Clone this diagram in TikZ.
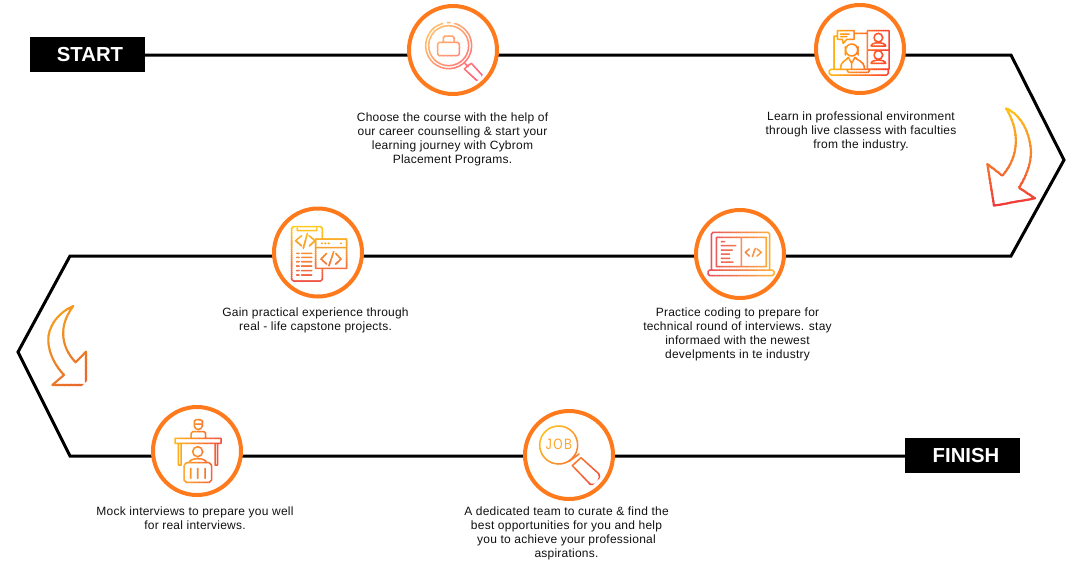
\documentclass[tikz,border=0pt]{standalone}
\usepackage{fontspec}
\setmainfont{Liberation Sans}
\usetikzlibrary{backgrounds}
\definecolor{ringc}{HTML}{FF7A1C}
\definecolor{txtc}{HTML}{111111}
\definecolor{aA}{HTML}{FFCB6A}\definecolor{aB}{HTML}{FF5F7E}
\definecolor{bA}{HTML}{FFBE10}\definecolor{bB}{HTML}{FF3F30}
\definecolor{cA}{HTML}{FFC61A}\definecolor{cB}{HTML}{F03A3A}
\definecolor{dA}{HTML}{FFCF1E}\definecolor{dB}{HTML}{EE5548}
\definecolor{eA}{HTML}{E8505C}\definecolor{eB}{HTML}{FFB43A}
\definecolor{fA}{HTML}{FFB71A}\definecolor{fB}{HTML}{F5503C}
\definecolor{gA}{HTML}{FFC020}\definecolor{gB}{HTML}{F4503C}
\definecolor{hA}{HTML}{F5A81C}\definecolor{hB}{HTML}{E8682C}
\definecolor{jobc}{HTML}{FFA52A}
\tikzset{
  ring/.style={circle,draw=ringc,line width=4pt,fill=white,minimum size=88pt,inner sep=0pt,outer sep=0pt},
  track/.style={line width=3pt,black,line join=miter},
  tagbox/.style={fill=black,text=white,minimum width=115pt,minimum height=35pt,inner sep=0pt,font=\fontsize{20.3}{24}\selectfont\bfseries},
  caption/.style={align=center,text=txtc,inner sep=0pt,font=\fontsize{12}{14}\selectfont\addfontfeature{LetterSpace=2},anchor=north},
  iconline/.style={line width=1.5pt,line join=round,line cap=round},
  arrowline/.style={line width=2.1pt,line join=round,line cap=round},
  zoomed/.style={x=0.33333pt,y=-0.33333pt}
}
% #1 cx, #2 cy, #3 half length, #4 angle, #5 from colour, #6 to colour, #7 style, #8 paths
\newcommand\gradstroke[8]{%
  \foreach \gi in {0,...,27}{%
    \pgfmathsetmacro\ga{#1-#3+2*#3*\gi/28}%
    \pgfmathsetmacro\gb{#1-#3+2*#3*(\gi+1.15)/28}%
    \pgfmathsetmacro\gp{100*\gi/27}%
    \colorlet{gc}{#6!\gp!#5}%
    \begin{scope}
      \clip[rotate around={#4:(#1,#2)}] (\ga,#2-2*#3) rectangle (\gb,#2+2*#3);
      \draw[gc,#7] #8;
    \end{scope}
  }%
}
\begin{document}
\begin{tikzpicture}[x=1pt,y=-1pt]
\useasboundingbox (0,0) rectangle (1071,560);

\node[tagbox] (start) at (87.5,54.5) {\hspace*{5pt}START};
\node[tagbox] (finish) at (962.5,455.5) {\hspace*{7pt}FINISH};
\node[ring] (c1) at (453,50) {};
\node[ring] (c2) at (860,49) {};
\node[ring] (c3) at (318,252.5) {};
\node[ring] (c4) at (740,254) {};
\node[ring] (c5) at (197,451) {};
\node[ring] (c6) at (569,455) {};
\coordinate (k1) at (1011,55);
\coordinate (k2) at (1064,160);
\coordinate (k3) at (1011,256);
\coordinate (k4) at (70,256);
\coordinate (k5) at (18,352);
\coordinate (k6) at (70,456);

\begin{scope}[on background layer]
\fill[white] (0,0) rectangle (1071,560);
\draw[track] (start.east |- k1) -- (c1 |- k1) -- (c2 |- k1) -- (k1) -- (k2) -- (k3)
  -- (c4 |- k3) -- (c3 |- k3) -- (k4) -- (k5) -- (k6)
  -- (c5 |- k6) -- (c6 |- k6) -- (finish.west |- k6);
\end{scope}

% captions
\node[caption] (t1) at (452.5,112.5) {Choose the course with the help of\\our career counselling \& start your\\learning journey with Cybrom\\Placement Programs.};
\node[caption] (t2) at (861,111.5) {Learn in professional environment\\through live classess with faculties\\from the industry.};
\node[caption] (t3) at (315.5,307.5) {Gain practical experience through\\real - life capstone projects.};
\node[caption] (t4) at (737.5,307.5) {Practice coding to prepare for\\technical round of interviews. stay\\informaed with the newest\\develpments in te industry};
\node[caption] (t5) at (195,506.5) {Mock interviews to prepare you well\\for real interviews.};
\node[caption] (t6) at (566.5,506.5) {A dedicated team to curate \& find the\\best opportunities for you and help\\you to achieve your professional\\aspirations.};

% icon 1: magnifier with lock
\begin{scope}[shift={(400,0)},zoomed]
\gradstroke{160}{150}{115}{-45}{aA}{aB}{iconline}{
  (128.1,70.4) arc[start angle=105,end angle=435,radius=23pt]
  (142,68) -- (150,68)
  (146,137) circle (60)
  (113,132) -- (113,162) -- (118,167) -- (173,167) -- (178,162) -- (178,132) -- (173,127) -- (118,127) -- cycle
  (130,127) -- (130,113) -- (135,108) -- (157,108) -- (162,113) -- (162,127)
  (192,188) -- (205,200)
  (203,197) -- (193,207) -- (230,241) -- (240,241) -- (247,232) -- (246,225) -- (214,190) -- cycle
}
\end{scope}

% icon 2: online class
\begin{scope}[shift={(805,0)},zoomed]
\gradstroke{160}{150}{95}{0}{bA}{bB}{iconline}{
  (73,212) -- (73,220) -- (78,225) -- (245,225) -- (250,220) -- (250,208) -- (78,208) -- cycle
  (125,208) -- (130,217) -- (190,217) -- (195,208)
  (87,208) -- (87,108) -- (97,108)
  (147,100) -- (187,100)
  (97,92) -- (147,92) -- (147,118) -- (125,118) -- (115,130) -- (112,118) -- (97,118) -- cycle
  (107,102) -- (132,102) (107,110) -- (125,110)
  (187,92) -- (252,92) -- (252,207) -- (187,207) -- cycle
  (187,150) -- (252,150)
  (220,113) circle (13)
  (198,138) .. controls (200,125) and (240,125) .. (242,138) -- (198,138)
  (220,165) circle (13)
  (198,190) .. controls (200,177) and (240,177) .. (242,190) -- (198,190)
  (140,150) circle (18)
  (121,140) -- (121,165) (159,140) -- (159,165)
  (107,205) .. controls (107,182) and (125,182) .. (130,172)
  (150,172) .. controls (155,182) and (178,182) .. (178,205)
  (130,172) -- (140,190) -- (150,172) (140,190) -- (140,205)
}
\end{scope}

% arrow 1
\begin{scope}[shift={(970,90)},zoomed]
\gradstroke{120}{200}{155}{-90}{cA}{cB}{arrowline}{
  (108,55) .. controls (155,75) and (180,130) .. (183,185) .. controls (183,225) and (165,265) .. (147,293)
  -- (195,325) -- (72,347) -- (52,222) -- (97,257)
  .. controls (135,215) and (160,140) .. (108,55)
}
\end{scope}

% icon 3: code phone and window
\begin{scope}[shift={(265,200)},zoomed]
\gradstroke{160}{160}{88}{-90}{dA}{dB}{iconline}{
  (172,117) -- (172,85) -- (167,80) -- (85,80) -- (80,85) -- (80,238) -- (85,243) -- (167,243) -- (172,238) -- (172,205)
  (97,85) -- (97,92) -- (155,92) -- (155,85)
  (110,107) -- (92,122) -- (110,138)
  (127,100) -- (115,145)
  (132,107) -- (150,122) -- (133,138)
  (95,160) -- (102,160) (110,160) -- (140,160)
  (95,172) -- (102,172) (110,172) -- (140,172)
  (95,185) -- (102,185) (110,185) -- (140,185)
  (95,198) -- (102,198) (110,198) -- (140,198)
  (95,212) -- (102,212) (110,212) -- (140,212)
  (95,225) -- (102,225) (110,225) -- (140,225)
  (152,117) -- (245,117) -- (245,205) -- (152,205) -- cycle
  (152,143) -- (245,143)
  (170,130) -- (172,130) (180,130) -- (182,130) (190,130) -- (192,130) (227,130) -- (229,130)
  (185,160) -- (168,177) -- (185,192)
  (206,155) -- (192,197)
  (212,160) -- (228,177) -- (212,192)
}
\end{scope}

% icon 4: code laptop
\begin{scope}[shift={(688,200)},zoomed]
\gradstroke{160}{160}{102}{0}{eA}{eB}{iconline}{
  (70,210) -- (70,102) -- (75,97) -- (240,97) -- (245,102) -- (245,210)
  (85,200) -- (85,112) -- (235,112) -- (235,200) -- cycle
  (160,112) -- (160,200)
  (65,210) -- (253,210) -- (258,215) -- (258,222) -- (253,227) -- (65,227) -- (60,222) -- (60,215) -- cycle
  (100,125) -- (110,125) (100,137) -- (143,137) (100,150) -- (133,150)
  (100,162) -- (125,162) (100,175) -- (125,175) (100,186) -- (135,186)
  (184,147) -- (172,157) -- (184,168)
  (202,145) -- (193,170)
  (207,147) -- (220,157) -- (207,168)
}
\end{scope}

% icon 5: interview
\begin{scope}[shift={(145,400)},zoomed]
\gradstroke{159}{150}{72}{0}{fA}{fB}{iconline}{
  (148,63) -- (148,78) .. controls (150,92) and (170,92) .. (172,78) -- (172,63) .. controls (165,57) and (152,57) .. (148,63)
  (148,72) -- (172,72)
  (138,115) -- (138,100) -- (143,95) -- (177,95) -- (182,100) -- (182,115)
  (90,115) -- (228,115) -- (228,130) -- (90,130) -- cycle
  (100,130) -- (100,195) -- (108,195) -- (108,130)
  (210,130) -- (210,195) -- (218,195) -- (218,130)
  (158,155) circle (15)
  (132,188) .. controls (135,172) and (182,172) .. (185,188)
  (125,188) -- (192,188) .. controls (198,190) and (200,195) .. (200,205) -- (200,240) -- (193,247) -- (124,247) -- (117,240) -- (117,205) .. controls (117,195) and (119,190) .. (125,188)
  (137,205) -- (137,235) (158,205) -- (158,235) (180,205) -- (180,235)
}
\end{scope}

% icon 6: job magnifier
\begin{scope}[shift={(517,405)},zoomed]
\gradstroke{160}{150}{110}{-45}{gA}{gB}{iconline}{
  (125,120) circle (57)
  (155,170) -- (186,147)
  (166,182) -- (192,158) -- (245,206) .. controls (250,212) and (248,220) .. (243,228) .. controls (236,238) and (228,242) .. (220,238) -- cycle
}
\node[text=jobc,inner sep=0pt,font=\fontsize{15}{15}\selectfont\addfontfeature{FakeStretch=0.8,LetterSpace=10}] (jobword) at (126,119) {JOB};
\end{scope}

% arrow 2
\begin{scope}[shift={(10,290)},zoomed]
\gradstroke{160}{165}{125}{-45}{hA}{hB}{arrowline}{
  (190,48) .. controls (140,70) and (112,115) .. (115,155) .. controls (117,195) and (140,232) .. (162,255)
  -- (127,285) -- (228,285) -- (228,185) -- (197,217)
  .. controls (165,185) and (135,120) .. (190,48)
}
\end{scope}
\end{tikzpicture}
\end{document}
